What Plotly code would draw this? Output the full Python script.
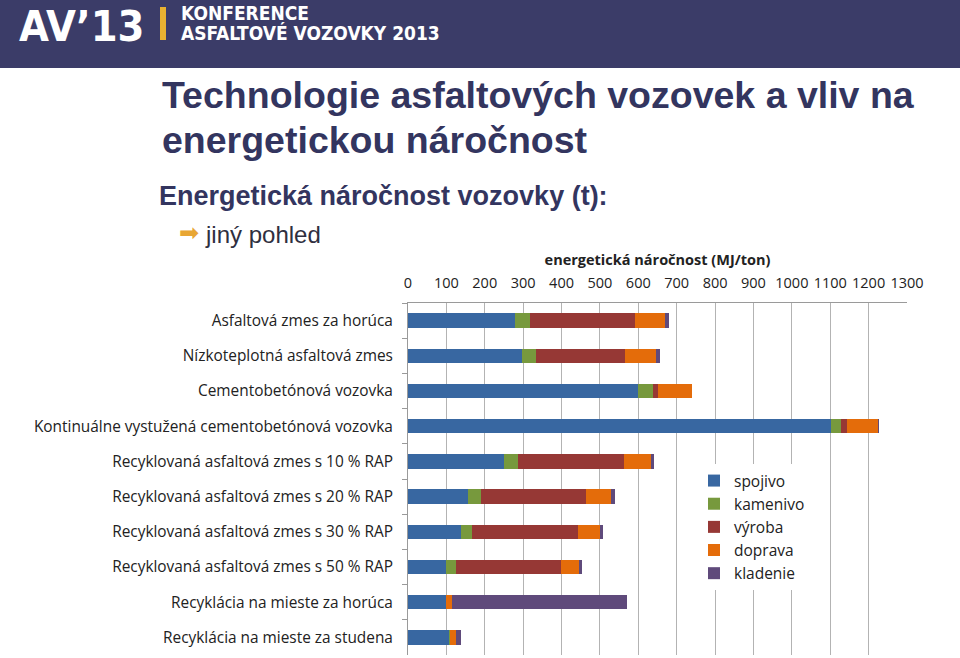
import plotly.graph_objects as go

categories = [
    "Asfaltová zmes za horúca",
    "Nízkoteplotná asfaltová zmes",
    "Cementobetónová vozovka",
    "Kontinuálne vystužená cementobetónová vozovka",
    "Recyklovaná asfaltová zmes s 10 % RAP",
    "Recyklovaná asfaltová zmes s 20 % RAP",
    "Recyklovaná asfaltová zmes s 30 % RAP",
    "Recyklovaná asfaltová zmes s 50 % RAP",
    "Recyklácia na mieste za horúca",
    "Recyklácia na mieste za studena",
]
spojivo = [278, 296, 600, 1101, 250, 157, 137, 99, 99, 107]
kamenivo = [39, 37, 38, 28, 36, 32, 31, 25, 0, 2]
vyroba = [275, 233, 14, 14, 276, 275, 275, 274, 0, 0]
doprava = [78, 80, 88, 82, 71, 64, 57, 47, 16, 15]
kladenie = [10, 10, 0, 2, 9, 11, 8, 9, 455, 15]
tick_vals = list(range(0, 1301, 100))

series = [
    ("spojivo", spojivo, "#3867a1"),
    ("kamenivo", kamenivo, "#77993d"),
    ("výroba", vyroba, "#963835"),
    ("doprava", doprava, "#e46c0a"),
    ("kladenie", kladenie, "#5f4a7b"),
]

fig = go.Figure()
for name, vals, col in series:
    fig.add_trace(go.Bar(y=categories, x=vals, name=name, orientation="h",
                         marker=dict(color=col, line=dict(width=0))))

# plot area in pixels
L, R, T, B = 408, 907, 303, 655
W, H = 960, 658

def px(x):
    return (x - L) / (R - L)

def py(y):
    return (B - y) / (B - T)

navy = "#33355f"
label_font = "Open Sans, Noto Sans, sans-serif"

fig.update_layout(
    width=W, height=H,
    margin=dict(l=L, r=W - R, t=T, b=H - B),
    paper_bgcolor="white", plot_bgcolor="white",
    barmode="stack", bargap=0.59,
    showlegend=True,
    legend=dict(x=px(694), y=py(464), xanchor="left", yanchor="top",
                bgcolor="white", traceorder="normal",
                font=dict(family=label_font, size=15.5, color="#222222"),
                itemwidth=30, tracegroupgap=0),
    xaxis=dict(side="top", range=[0, 1300], tickvals=tick_vals,
               showgrid=True, gridcolor="#b3b3b3", gridwidth=1,
               showline=True, linecolor="#9a9a9a", ticks="",
               zeroline=False, ticklabelstandoff=8,
               tickfont=dict(family=label_font, size=14.5, color="#222222"),
               title=dict(text="<b>energetická náročnost (MJ/ton)</b>", standoff=4,
                          font=dict(family=label_font, size=14.5, color="#222222"))),
    yaxis=dict(autorange="reversed", showgrid=False, showline=True,
               linecolor="#9a9a9a", ticks="outside", ticklen=5, tickcolor="#9a9a9a",
               tickson="boundaries", ticklabelstandoff=11,
               tickfont=dict(family=label_font, size=15.4, color="#222222")),
)

shapes = [
    dict(type="rect", xref="paper", yref="paper", x0=px(0), x1=px(W), y0=py(0), y1=py(68),
         fillcolor="#3b3c68", line=dict(width=0), layer="below"),
    dict(type="rect", xref="paper", yref="paper", x0=px(160), x1=px(166), y0=py(7), y1=py(40),
         fillcolor="#e8b131", line=dict(width=0)),
]
fig.update_layout(shapes=shapes)

ann = []
def add(text, x, y, size, color, family="Liberation Sans, Arial, sans-serif", xanchor="left", yanchor="middle"):
    ann.append(dict(text=text, x=px(x), y=py(y), xref="paper", yref="paper", showarrow=False,
                    xanchor=xanchor, yanchor=yanchor,
                    font=dict(size=size, color=color, family=family)))

cond = "DejaVu Sans Condensed, Liberation Sans Narrow, sans-serif"
add("<b>AV’13</b>", 17, 26, 43, "white", family=cond)
add("<b>KONFERENCE</b>", 179, 13, 19, "white", family=cond)
add("<b>ASFALTOVÉ VOZOVKY 2013</b>", 179, 33, 19, "white", family=cond)
add("<b>Technologie asfaltových vozovek a vliv na</b>", 160, 95, 37.5, navy)
add("<b>energetickou náročnost</b>", 160, 140, 37.5, navy)
add("<b>Energetická náročnost vozovky (t):</b>", 157, 196, 27, navy)
add("➡", 177, 233, 24, "#e8a634", family="DejaVu Sans, sans-serif")
add("jiný pohled", 203, 234, 24, "#2f2f3f")
fig.update_layout(annotations=ann)

fig.write_html("out.html", config={"displayModeBar": False},
               post_script="document.body.style.margin='0';document.body.style.overflow='hidden';")
